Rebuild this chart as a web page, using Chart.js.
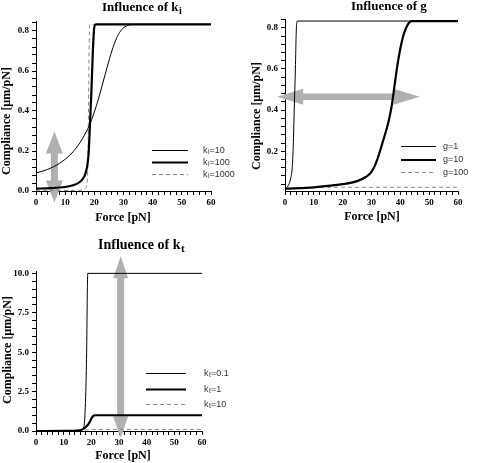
<!DOCTYPE html>
<html>
<head>
<meta charset="utf-8">
<script src="https://cdn.jsdelivr.net/npm/chart.js@4.4.1/dist/chart.umd.min.js"></script>
<style>
  body { margin: 0; background: #fff; }
  .box { position: absolute; }
</style>
</head>
<body>
<div class="box" style="left:0;top:0"><canvas id="c1" width="239" height="230"></canvas></div>
<div class="box" style="left:239px;top:0"><canvas id="c2" width="239" height="230"></canvas></div>
<div class="box" style="left:0;top:230px"><canvas id="c3" width="239" height="233"></canvas></div>
<script>
// x axis (all panels)
const forceTicks = [0, 10, 20, 30, 40, 50, 60];
const forceMinorStep = 2;

// panel 1: influence of k_i
const kiNames = ["10", "100", "1000"];
const ki10Force = [0, 4, 8, 12, 15, 17, 18.5, 20, 21.5, 23, 24.5, 26, 27.5, 29, 31, 34, 60];
const ki10Comp = [0.09, 0.108, 0.138, 0.185, 0.24, 0.29, 0.335, 0.395, 0.465, 0.545, 0.625, 0.7, 0.76, 0.8, 0.825, 0.833, 0.833];
const ki100Force = [0, 5, 10, 13, 15, 16, 17, 18, 18.5, 19, 19.5, 20, 20.6, 60];
const ki100Comp = [0.012, 0.014, 0.02, 0.03, 0.045, 0.06, 0.09, 0.18, 0.33, 0.5, 0.7, 0.82, 0.833, 0.833];
const ki1000Force = [0, 10, 15, 16, 17, 17.5, 17.8, 18, 18.2, 18.4, 60];
const ki1000Comp = [0.001, 0.002, 0.004, 0.006, 0.015, 0.04, 0.15, 0.4, 0.7, 0.833, 0.833];
const kiTicks = [0, 0.2, 0.4, 0.6, 0.8];

// panel 2: influence of g
const gNames = ["1", "10", "100"];
const g1Force = [0, 1, 2, 2.5, 2.8, 3.2, 3.6, 3.9, 4.1, 4.3, 60];
const g1Comp = [0.018, 0.03, 0.07, 0.12, 0.2, 0.4, 0.6, 0.78, 0.825, 0.833, 0.833];
const g10Force = [0, 10, 20, 25, 28, 30, 32, 34, 36, 37, 38, 39, 40, 41, 42, 43, 44, 60];
const g10Comp = [0.018, 0.025, 0.04, 0.055, 0.075, 0.1, 0.16, 0.25, 0.35, 0.42, 0.52, 0.62, 0.7, 0.76, 0.8, 0.825, 0.833, 0.833];
const g100Force = [0, 5, 10, 20, 60];
const g100Comp = [0.018, 0.022, 0.024, 0.025, 0.025];
const gTicks = [0.2, 0.4, 0.6, 0.8];

// panel 3: influence of k_t
const ktNames = ["0.1", "1", "10"];
const kt01Force = [0, 10, 15, 17, 17.5, 18, 18.3, 18.5, 18.7, 60];
const kt01Comp = [0, 0.01, 0.05, 0.15, 0.5, 2.5, 5, 8, 10, 10];
const kt1Force = [0, 10, 15, 16, 17, 18, 19, 19.5, 20, 20.5, 21, 21.5, 60];
const kt1Comp = [0, 0.005, 0.03, 0.05, 0.12, 0.25, 0.45, 0.6, 0.78, 0.92, 0.98, 1.0, 1.0];
const kt10Force = [0, 15, 17, 18, 19, 20, 60];
const kt10Comp = [0, 0.005, 0.03, 0.06, 0.09, 0.1, 0.1];
const ktTicks = [0, 2.5, 5, 7.5, 10];

const serif = '"Liberation Serif", "Times New Roman", serif';
const sans = '"Liberation Sans", Arial, sans-serif';

const pts = (xs, ys) => xs.map((x, i) => ({ x: x, y: ys[i] }));
const thin = { borderColor: "#000", borderWidth: 1 };
const thick = { borderColor: "#000", borderWidth: 2.2 };
const dashed = { borderColor: "#888", borderWidth: 1, borderDash: [4, 3] };

function minorTicks(min, max, step) {
  const out = [];
  for (let v = Math.ceil(min / step - 1e-6) * step; v <= max + 1e-9; v += step) out.push(+v.toFixed(4));
  return out;
}
const isMajor = (v, majors) => majors.some((m) => Math.abs(m - v) < 1e-6);

function drawArrow(ctx, x1, y1, x2, y2, shaft, headW, headLen) {
  const a = Math.atan2(y2 - y1, x2 - x1);
  const len = Math.hypot(x2 - x1, y2 - y1);
  ctx.save();
  ctx.translate(x1, y1);
  ctx.rotate(a);
  ctx.fillStyle = "#b0b0b0";
  ctx.beginPath();
  ctx.moveTo(0, 0);
  ctx.lineTo(headLen, -headW / 2);
  ctx.lineTo(headLen, -shaft / 2);
  ctx.lineTo(len - headLen, -shaft / 2);
  ctx.lineTo(len - headLen, -headW / 2);
  ctx.lineTo(len, 0);
  ctx.lineTo(len - headLen, headW / 2);
  ctx.lineTo(len - headLen, shaft / 2);
  ctx.lineTo(headLen, shaft / 2);
  ctx.lineTo(headLen, headW / 2);
  ctx.closePath();
  ctx.fill();
  ctx.restore();
}

// main text, subscript, then rest back on the baseline
function subText(ctx, x, y, main, sub, rest, size, subSize, drop) {
  const f = ctx.font;
  ctx.fillText(main, x, y);
  let w = ctx.measureText(main).width;
  ctx.font = f.replace(size + "px", subSize + "px");
  ctx.fillText(sub, x + w + 0.5, y + drop);
  w += ctx.measureText(sub).width + 0.5;
  ctx.font = f;
  if (rest) ctx.fillText(rest, x + w, y);
}

const decor = {
  id: "decor",
  beforeDatasetsDraw(chart, args, o) {
    const xs = chart.scales.x, ys = chart.scales.y;
    const a = o.arrow;
    drawArrow(chart.ctx,
      xs.getPixelForValue(a.x[0]), ys.getPixelForValue(a.y[0]),
      xs.getPixelForValue(a.x[1]), ys.getPixelForValue(a.y[1]),
      a.shaft, a.headW, a.headLen);
  },
  afterDraw(chart, args, o) {
    const ctx = chart.ctx;
    ctx.save();
    ctx.fillStyle = "#000";
    // title
    ctx.font = "bold " + o.titleSize + "px " + serif;
    ctx.textAlign = "left";
    ctx.textBaseline = "alphabetic";
    if (o.titleSub) subText(ctx, o.titlePos[0], o.titlePos[1], o.title, o.titleSub, "", o.titleSize, Math.round(o.titleSize * 0.75), 3);
    else ctx.fillText(o.title, o.titlePos[0], o.titlePos[1]);
    // axis titles
    ctx.font = "bold 12px " + serif;
    ctx.textAlign = "center";
    ctx.fillText("Force [pN]", o.xLabel[0], o.xLabel[1]);
    ctx.save();
    ctx.translate(o.yLabel[0], o.yLabel[1]);
    ctx.rotate(-Math.PI / 2);
    ctx.font = "bold " + o.yLabelSize + "px " + serif;
    ctx.fillText("Compliance [\u00b5m/pN]", 0, 0);
    ctx.restore();
    // legend
    const lg = o.legend;
    ctx.textAlign = "left";
    ctx.textBaseline = "middle";
    ctx.fillStyle = "#333";
    ctx.font = "9px " + sans;
    chart.data.datasets.forEach((ds, i) => {
      const y = lg.y[i];
      ctx.save();
      ctx.strokeStyle = ds.borderColor;
      ctx.lineWidth = ds.borderWidth;
      ctx.setLineDash(ds.borderDash || []);
      ctx.beginPath();
      ctx.moveTo(lg.x1, y);
      ctx.lineTo(lg.x2, y);
      ctx.stroke();
      ctx.restore();
      if (lg.sym.length > 1) subText(ctx, lg.tx, y, lg.sym[0], lg.sym[1], "=" + lg.names[i], 9, 7, 2);
      else ctx.fillText(lg.sym[0] + "=" + lg.names[i], lg.tx, y);
    });
    ctx.restore();
  }
};

function makePanel(id, cfg) {
  const canvas = document.getElementById(id);
  const W = canvas.width, H = canvas.height;
  const yMinor = minorTicks(cfg.yMin, cfg.yMax, cfg.yStep);
  const xMinor = minorTicks(0, 60, forceMinorStep);
  const tickFont = { family: serif, size: 9, weight: "bold" };
  return new Chart(canvas, {
    type: "line",
    data: { datasets: cfg.datasets },
    plugins: [decor],
    options: {
      responsive: false,
      animation: false,
      devicePixelRatio: 1,
      layout: { padding: { left: 0, top: cfg.area.top, right: W - cfg.area.right, bottom: 0 } },
      elements: { point: { radius: 0 }, line: { cubicInterpolationMode: "monotone", fill: false } },
      plugins: { legend: { display: false }, tooltip: { enabled: false }, decor: cfg.decor },
      scales: {
        x: {
          type: "linear", min: 0, max: 60,
          afterFit: (s) => { s.height = H - cfg.area.bottom; },
          afterBuildTicks: (s) => { s.ticks = xMinor.map((v) => ({ value: v })); },
          grid: { drawOnChartArea: false, tickLength: 4, color: "#000", tickWidth: 1 },
          border: { color: "#000", width: 1 },
          ticks: {
            autoSkip: false, maxRotation: 0, padding: 2, color: "#000", font: tickFont,
            callback: (v) => (isMajor(v, forceTicks) ? String(v) : "")
          }
        },
        y: {
          type: "linear", min: cfg.yMin, max: cfg.yMax,
          afterFit: (s) => { s.width = cfg.area.left; },
          afterBuildTicks: (s) => { s.ticks = yMinor.map((v) => ({ value: v })); },
          grid: { drawOnChartArea: false, tickLength: 4, color: "#000", tickWidth: 1 },
          border: { color: "#000", width: 1 },
          ticks: {
            autoSkip: false, padding: 3, color: "#000", font: tickFont,
            callback: (v) => (isMajor(v, cfg.yMajor) ? v.toFixed(1) : "")
          }
        }
      }
    }
  });
}

makePanel("c1", {
  area: { left: 36, top: 21, right: 211, bottom: 191 },
  yMin: 0, yMax: 0.85, yStep: 0.04, yMajor: kiTicks,
  datasets: [
    Object.assign({ label: "ki=10", data: pts(ki10Force, ki10Comp) }, thin),
    Object.assign({ label: "ki=100", data: pts(ki100Force, ki100Comp) }, thick),
    Object.assign({ label: "ki=1000", data: pts(ki1000Force, ki1000Comp) }, dashed)
  ],
  decor: {
    title: "Influence of k", titleSub: "i", titleSize: 13, titlePos: [102, 10.5],
    xLabel: [123, 221], yLabel: [10, 121], yLabelSize: 12,
    legend: { x1: 152, x2: 188, tx: 203, y: [150.5, 162.5, 174.5], sym: ["k", "i"], names: kiNames },
    arrow: { x: [6.3, 6.3], y: [0.297, -0.057], shaft: 7, headW: 17, headLen: 22 }
  }
});

makePanel("c2", {
  area: { left: 46, top: 19, right: 219, bottom: 191 },
  yMin: 0.007, yMax: 0.843, yStep: 0.04, yMajor: gTicks,
  datasets: [
    Object.assign({ label: "g=1", data: pts(g1Force, g1Comp) }, thin),
    Object.assign({ label: "g=10", data: pts(g10Force, g10Comp) }, thick),
    Object.assign({ label: "g=100", data: pts(g100Force, g100Comp) }, dashed)
  ],
  decor: {
    title: "Influence of g", titleSub: "", titleSize: 13, titlePos: [112, 10],
    xLabel: [133, 220], yLabel: [21, 116], yLabelSize: 12,
    legend: { x1: 162, x2: 197, tx: 204, y: [146.5, 160, 172.5], sym: ["g"], names: gNames },
    arrow: { x: [-2.7, 46.7], y: [0.465, 0.465], shaft: 6.5, headW: 16, headLen: 26 }
  }
});

makePanel("c3", {
  area: { left: 36, top: 41, right: 202, bottom: 201 },
  yMin: 0, yMax: 10.15, yStep: 0.5, yMajor: ktTicks,
  datasets: [
    Object.assign({ label: "kt=0.1", data: pts(kt01Force, kt01Comp) }, thin),
    Object.assign({ label: "kt=1", data: pts(kt1Force, kt1Comp) }, thick),
    Object.assign({ label: "kt=10", data: pts(kt10Force, kt10Comp) }, dashed)
  ],
  decor: {
    title: "Influence of k", titleSub: "t", titleSize: 14, titlePos: [98, 18.5],
    xLabel: [123, 229], yLabel: [11, 120], yLabelSize: 12,
    legend: { x1: 146, x2: 186, tx: 204, y: [143.5, 159.5, 174.5], sym: ["k", "t"], names: ktNames },
    arrow: { x: [30.6, 30.6], y: [11.08, -0.46], shaft: 7, headW: 15, headLen: 22 }
  }
});
</script>
</body>
</html>
